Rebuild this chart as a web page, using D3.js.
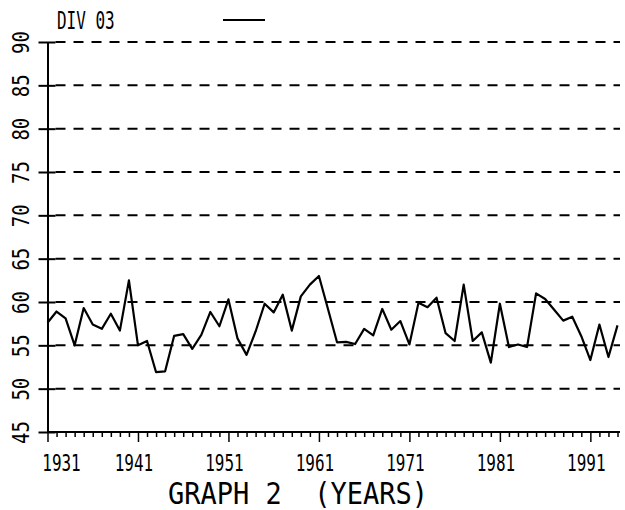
<!DOCTYPE html>
<html>
<head>
<meta charset="utf-8">
<script src="https://cdn.jsdelivr.net/npm/d3@7"></script>
<style>
  body { margin: 0; background: #fff; }
  text { font-family: "DejaVu Sans Mono", monospace; fill: #000; }
</style>
</head>
<body>
<svg id="chart"></svg>
<script>
// years 1931..1994, one value per year
const years = d3.range(1931, 1995);
const values = [
  57.6, 58.9, 58.1, 55.0, 59.3, 57.4, 56.9, 58.65, 56.7, 62.5,
  55.0, 55.5, 51.9, 52.0, 56.1, 56.3, 54.6, 56.2, 58.85, 57.2,
  60.3, 55.8, 53.9, 56.6, 59.8, 58.8, 60.85, 56.7, 60.65, 62.0,
  63.0, 59.2, 55.35, 55.4, 55.15, 56.9, 56.15, 59.2, 56.8, 57.8,
  55.1, 59.9, 59.4, 60.5, 56.4, 55.5, 62.0, 55.5, 56.5, 53.0,
  59.8, 54.8, 55.1, 54.8, 61.0, 60.35, 59.1, 57.85, 58.3, 56.05,
  53.3, 57.4, 53.65, 57.3
];
const yTicks = [45, 50, 55, 60, 65, 70, 75, 80, 85, 90];
const xLabels = [1931, 1941, 1951, 1961, 1971, 1981, 1991];
const title = "DIV 03";
const xTitle = "GRAPH 2  (YEARS)";

const width = 625, height = 510;

const svg = d3.select("#chart")
    .attr("width", width)
    .attr("height", height);

const x = d3.scaleLinear()
    .domain([1931, 1994])
    .range([47.5, 617.5]);

const y = d3.scaleLinear()
    .domain([45, 90])
    .range([432, 42]);

const xEnd = 620;

// dashed grid lines
svg.append("g")
    .selectAll("line")
    .data(yTicks.slice(1))
    .enter()
    .append("line")
    .attr("x1", x(1931) + 8)
    .attr("x2", xEnd)
    .attr("y1", d => y(d))
    .attr("y2", d => y(d))
    .attr("stroke", "#000")
    .attr("stroke-width", 2)
    .attr("stroke-dasharray", "10,8");

// y axis
const yAxis = d3.axisLeft(y)
    .tickValues(yTicks)
    .tickSize(0)
    .tickFormat("");

const gy = svg.append("g")
    .attr("transform", "translate(" + x(1931) + ",0)")
    .call(yAxis);
gy.select(".domain").attr("stroke", "#000").attr("stroke-width", 2);

gy.selectAll(".tick")
    .append("line")
    .attr("x1", -9)
    .attr("x2", 8)
    .attr("stroke", "#000")
    .attr("stroke-width", 2);

// rotated labels, stretched a little to look like plotter lettering
gy.selectAll(".tick")
    .append("text")
    .attr("transform", "translate(-27,0) rotate(-90) scale(1,1.2)")
    .attr("text-anchor", "middle")
    .attr("dy", "0.36em")
    .style("font-size", "19px")
    .text(d => d);

// x axis: minor ticks each year, long ticks at labelled years
const xAxis = d3.axisBottom(x)
    .tickValues(years)
    .tickSize(5)
    .tickFormat("");

const gx = svg.append("g")
    .attr("transform", "translate(0," + y(45) + ")")
    .call(xAxis);
gx.select(".domain")
    .attr("d", "M" + x(1931) + ",0H" + xEnd)
    .attr("stroke", "#000")
    .attr("stroke-width", 2);
gx.selectAll(".tick line")
    .attr("stroke", "#000")
    .attr("stroke-width", 1.5)
    .attr("y2", d => xLabels.includes(d) ? 10 : 5);

svg.append("g")
    .selectAll("text")
    .data(xLabels)
    .enter()
    .append("text")
    .attr("transform", d => "translate(" + (d === 1931 ? x(d) + 14 : x(d) - 4) + "," + (y(45) + 39) + ") scale(1,1.45)")
    .attr("text-anchor", "middle")
    .style("font-size", "16px")
    .text(d => d);

// series line
const line = d3.line()
    .x((d, i) => x(years[i]))
    .y(d => y(d));

svg.append("path")
    .datum(values)
    .attr("d", line)
    .attr("fill", "none")
    .attr("stroke", "#000")
    .attr("stroke-width", 2.2)
    .attr("stroke-linejoin", "round");

// title and legend sample
svg.append("text")
    .attr("transform", "translate(57,29) scale(1,1.5)")
    .style("font-size", "16px")
    .style("white-space", "pre")
    .text(title);

svg.append("line")
    .attr("x1", 223)
    .attr("x2", 265)
    .attr("y1", 20)
    .attr("y2", 20)
    .attr("stroke", "#000")
    .attr("stroke-width", 2);

svg.append("text")
    .attr("transform", "translate(298,504) scale(1,1.1)")
    .attr("text-anchor", "middle")
    .style("font-size", "27px")
    .style("white-space", "pre")
    .text(xTitle);
</script>
</body>
</html>
